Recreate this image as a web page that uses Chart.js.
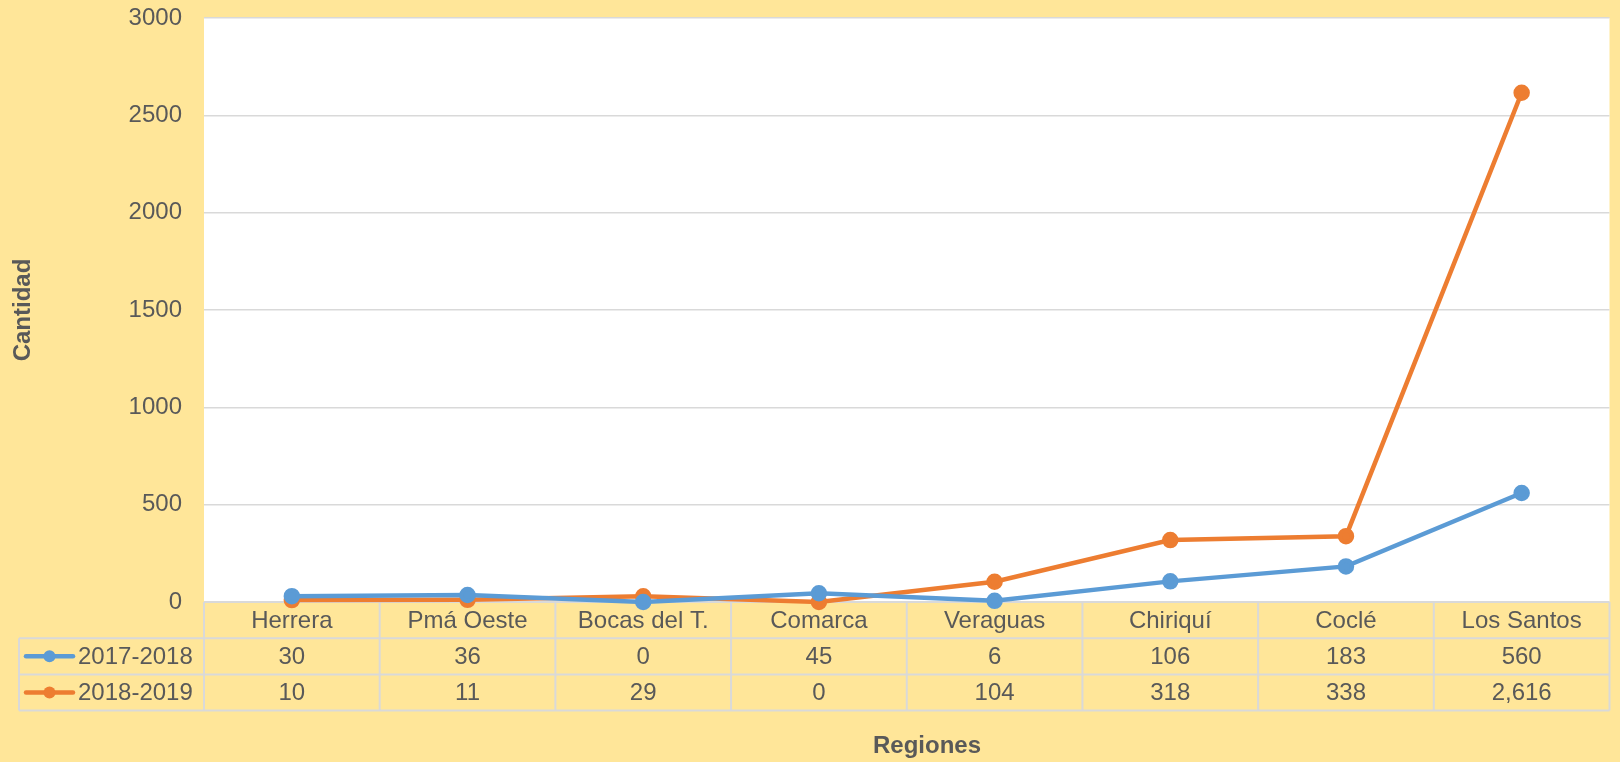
<!DOCTYPE html>
<html>
<head>
<meta charset="utf-8">
<script src="https://cdn.jsdelivr.net/npm/chart.js@4/dist/chart.umd.min.js"></script>
<style>
  html, body { margin: 0; padding: 0; background: #FFE699; }
  #wrap { width: 1620px; height: 762px; }
</style>
</head>
<body>
<div id="wrap"><canvas id="c" width="1620" height="762"></canvas></div>
<script>
// Regions and seasons
const regiones = ['Herrera', 'Pmá Oeste', 'Bocas del T.', 'Comarca', 'Veraguas', 'Chiriquí', 'Coclé', 'Los Santos'];
const temporadas = ['2017-2018', '2018-2019'];
const serie2017 = [30, 36, 0, 45, 6, 106, 183, 560];
const serie2018 = [10, 11, 29, 0, 104, 318, 338, 2616];
const yTicks = [0, 500, 1000, 1500, 2000, 2500, 3000];

const FONT = "'Liberation Sans', Arial, sans-serif";
const TEXT = '#595959';
const GRID = '#D9D9D9';
const COLORS = ['#5B9BD5', '#ED7D31'];
const ROW_H = 36.2;

const fmt = v => v.toLocaleString('en-US');

// Background, white plot area, data table under the axis and axis titles
const decor = {
  id: 'decor',
  beforeDraw(chart) {
    const { ctx, chartArea: a, width, height } = chart;
    ctx.save();
    ctx.fillStyle = '#FFE699';
    ctx.fillRect(0, 0, width, height);
    ctx.fillStyle = '#FFFFFF';
    ctx.fillRect(a.left, a.top, a.right - a.left, a.bottom - a.top);
    ctx.restore();
  },
  beforeDatasetsDraw(chart) {
    const { ctx, chartArea: a, scales: { x } } = chart;
    const top = a.bottom;
    const rows = [top, top + ROW_H, top + 2 * ROW_H, top + 3 * ROW_H];
    const legendLeft = 19;
    const edges = [a.left];
    for (let i = 0; i < regiones.length - 1; i++) {
      edges.push((x.getPixelForValue(i) + x.getPixelForValue(i + 1)) / 2);
    }
    edges.push(a.right);

    ctx.save();
    ctx.strokeStyle = GRID;
    ctx.lineWidth = 2;
    ctx.beginPath();
    // horizontal rules
    ctx.moveTo(a.left, rows[0]); ctx.lineTo(a.right, rows[0]);
    for (let r = 1; r < rows.length; r++) {
      ctx.moveTo(legendLeft, rows[r]); ctx.lineTo(a.right, rows[r]);
    }
    // vertical rules
    edges.forEach(e => { ctx.moveTo(e, rows[0]); ctx.lineTo(e, rows[3]); });
    ctx.moveTo(legendLeft, rows[1]); ctx.lineTo(legendLeft, rows[3]);
    ctx.stroke();

    ctx.fillStyle = TEXT;
    ctx.font = '24px ' + FONT;
    ctx.textAlign = 'center';
    ctx.textBaseline = 'middle';
    regiones.forEach((r, i) => {
      const cx = x.getPixelForValue(i);
      ctx.fillText(r, cx, (rows[0] + rows[1]) / 2 + 1);
    });
    chart.data.datasets.forEach((ds, d) => {
      const cy = (rows[d + 1] + rows[d + 2]) / 2 + 1;
      ds.data.forEach((v, i) => {
        ctx.fillText(fmt(v), x.getPixelForValue(i), cy);
      });
      // legend key: line with marker
      const ly = cy - 1;
      ctx.strokeStyle = ds.borderColor;
      ctx.lineWidth = 4.5;
      ctx.lineCap = 'round';
      ctx.beginPath();
      ctx.moveTo(26, ly); ctx.lineTo(73, ly);
      ctx.stroke();
      ctx.fillStyle = ds.borderColor;
      ctx.beginPath();
      ctx.arc(49.5, ly, 6, 0, Math.PI * 2);
      ctx.fill();
      ctx.fillStyle = TEXT;
      ctx.textAlign = 'left';
      ctx.fillText(ds.label, 78, cy);
      ctx.textAlign = 'center';
    });

    // axis titles
    ctx.font = 'bold 24px ' + FONT;
    ctx.fillText('Regiones', 927, 746);
    ctx.translate(23, (a.top + a.bottom) / 2);
    ctx.rotate(-Math.PI / 2);
    ctx.fillText('Cantidad', 0, 0);
    ctx.restore();
  }
};

new Chart(document.getElementById('c'), {
  type: 'line',
  data: {
    labels: regiones,
    datasets: [serie2017, serie2018].map((values, i) => ({
      label: temporadas[i],
      data: values,
      borderColor: COLORS[i],
      backgroundColor: COLORS[i],
      pointBackgroundColor: COLORS[i],
      pointBorderColor: COLORS[i],
      borderWidth: 4.5,
      pointRadius: 6,
      pointHoverRadius: 6,
      tension: 0,
      clip: false
    }))
  },
  options: {
    responsive: false,
    animation: false,
    events: [],
    layout: { padding: { top: 18, bottom: 160, left: 0, right: 2 } },
    plugins: { legend: { display: false }, tooltip: { enabled: false } },
    scales: {
      x: {
        type: 'category',
        display: false,
        offset: true
      },
      y: {
        min: 0,
        max: 3000,
        afterBuildTicks(scale) { scale.ticks = yTicks.map(v => ({ value: v })); },
        afterFit(scale) {
          scale.width = 204;
          scale.paddingTop = 0;
          scale.paddingBottom = 0;
        },
        grid: { color: GRID, lineWidth: 1.5, drawTicks: false },
        border: { display: false },
        ticks: {
          padding: 22,
          color: TEXT,
          font: { family: FONT, size: 24 },
          callback: v => String(v)
        }
      }
    }
  },
  plugins: [decor]
});
</script>
</body>
</html>
